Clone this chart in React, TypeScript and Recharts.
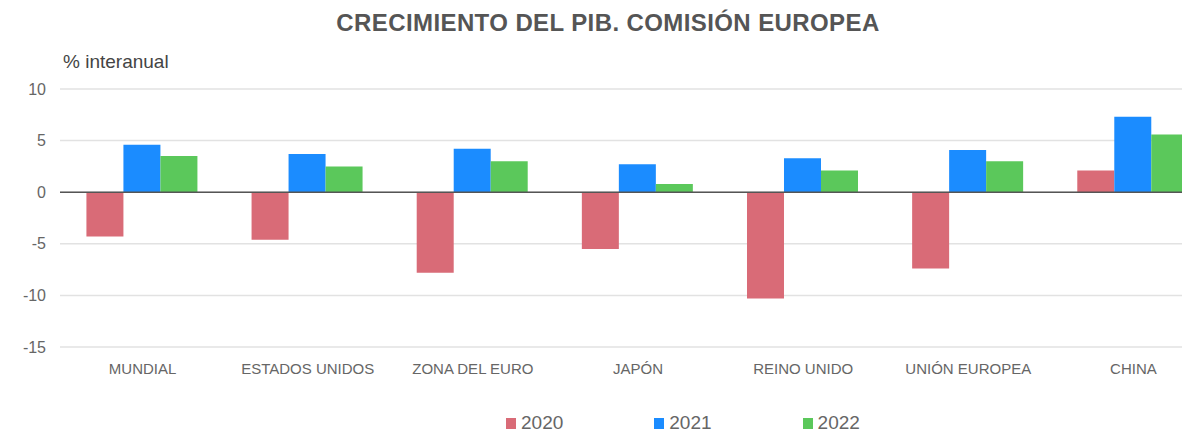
import { BarChart, Bar, XAxis, YAxis, CartesianGrid, ReferenceLine, Legend } from 'recharts';

const categories = ['MUNDIAL', 'ESTADOS UNIDOS', 'ZONA DEL EURO', 'JAPÓN', 'REINO UNIDO', 'UNIÓN EUROPEA', 'CHINA'];
const values2020 = [-4.3, -4.6, -7.8, -5.5, -10.3, -7.4, 2.1];
const values2021 = [4.6, 3.7, 4.2, 2.7, 3.3, 4.1, 7.3];
const values2022 = [3.5, 2.5, 3.0, 0.8, 2.1, 3.0, 5.6];
const yTicks = [-15, -10, -5, 0, 5, 10];

const series = [
  { key: 'y2020', name: '2020', color: '#d96b77' },
  { key: 'y2021', name: '2021', color: '#1b8cff' },
  { key: 'y2022', name: '2022', color: '#5bc85b' },
];

const data = categories.map((c, i) => ({
  pais: c,
  y2020: values2020[i],
  y2021: values2021[i],
  y2022: values2022[i],
}));

const font = '"Liberation Sans", Arial, sans-serif';

function LegendRow(props: any) {
  const items = props.payload || [];
  return (
    <div style={{ display: 'flex', height: 20, alignItems: 'center', fontFamily: font }}>
      {items.map((it: any, i: number) => (
        <div key={it.value} style={{ display: 'flex', alignItems: 'center', marginRight: i < items.length - 1 ? 91 : 0 }}>
          <span style={{ width: 10, height: 11, background: it.color, display: 'inline-block', marginRight: 5 }} />
          <span style={{ fontSize: 19, lineHeight: '20px', color: '#666' }}>{it.value}</span>
        </div>
      ))}
    </div>
  );
}

export default function App() {
  return (
    <div style={{ position: 'relative', width: 1190, height: 438, overflow: 'hidden', margin: -8, background: '#fff', fontFamily: font }}>
      <div style={{ position: 'absolute', top: 9, left: 0, width: 1216, textAlign: 'center', fontSize: 24, letterSpacing: 0.4, fontWeight: 'bold', color: '#555' }}>
        CRECIMIENTO DEL PIB. COMISIÓN EUROPEA
      </div>
      <div style={{ position: 'absolute', top: 51, left: 63, fontSize: 19, color: '#444' }}>% interanual</div>
      <BarChart
        width={1216}
        height={438}
        data={data}
        margin={{ top: 89, right: 0, left: 0, bottom: 41 }}
        barCategoryGap="16%"
        barGap={0}
      >
        <CartesianGrid vertical={false} stroke="#e2e2e2" strokeWidth={1.5} />
        <XAxis
          dataKey="pais"
          axisLine={false}
          tickLine={false}
          tickSize={0}
          tickMargin={16}
          interval={0}
          height={30}
          tick={{ fill: '#666', fontSize: 15, fontFamily: font }}
        />
        <YAxis
          width={60}
          domain={[-15, 10]}
          ticks={yTicks}
          axisLine={false}
          tickLine={false}
          tickSize={0}
          tickMargin={14}
          tick={{ fill: '#666', fontSize: 16, fontFamily: font }}
        />
        <ReferenceLine y={0} stroke="#555" strokeWidth={1.5} />
        <Legend
          content={<LegendRow />}
          wrapperStyle={{ left: 506, top: 413, bottom: 'auto', width: 420, height: 20 }}
        />
        {series.map((s) => (
          <Bar key={s.key} dataKey={s.key} name={s.name} fill={s.color} isAnimationActive={false} />
        ))}
      </BarChart>
    </div>
  );
}
